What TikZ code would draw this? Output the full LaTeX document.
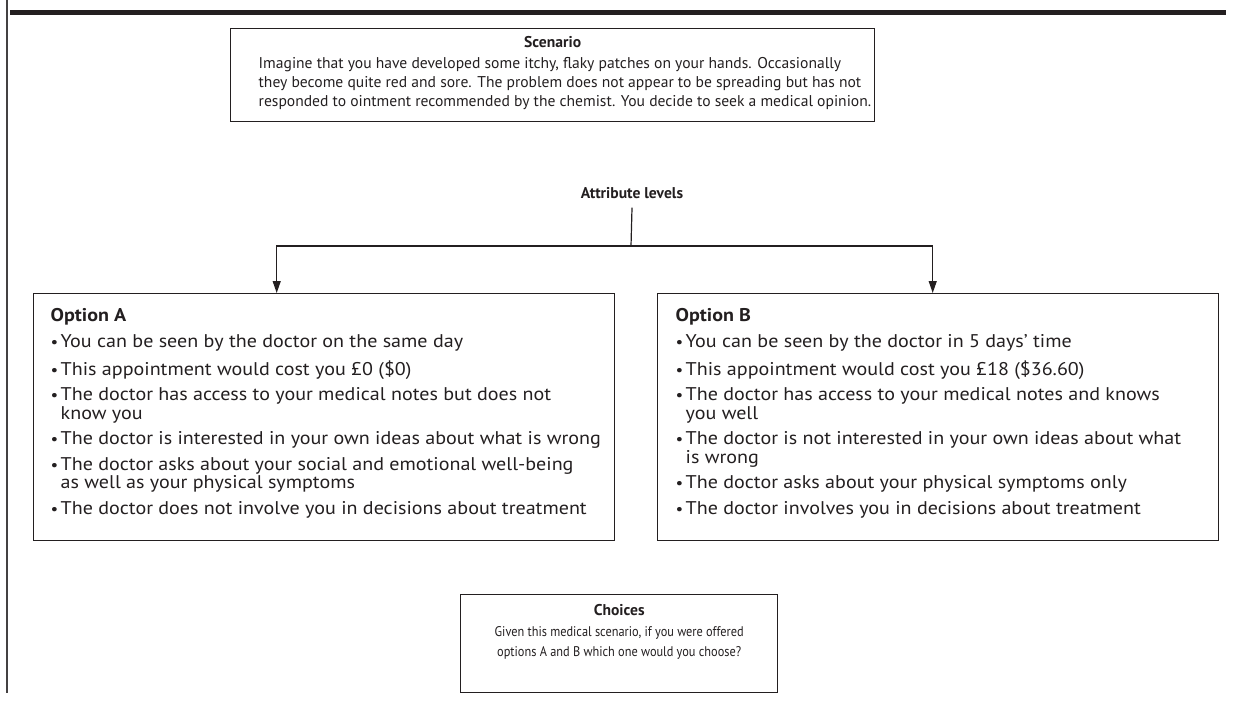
\documentclass[tikz,border=0pt]{standalone}
\usepackage{fontspec}
\setmainfont{PT Sans}
\newfontfamily\optfont[FakeStretch=1.09]{PT Sans}
\newfontfamily\choicefont[FakeStretch=0.88]{PT Sans}
\usetikzlibrary{positioning, arrows.meta}
\definecolor{ink}{HTML}{231F20}

\newcommand{\optitem}[1]{\par\vspace{3.6pt}\hangindent=5pt\hangafter=1\noindent\makebox[5pt][l]{\scalebox{0.85}{\textbullet}}#1}

\begin{document}
\begin{tikzpicture}[x=0.5pt, y=-0.5pt, >={Triangle[length=6pt,width=4pt]},
  font=\fontsize{7.8}{9.5}\selectfont,
  panel/.style={draw=ink, line width=0.7pt, inner sep=0pt, anchor=north west, text=ink},
  flow/.style={draw=ink, line width=0.6pt}]
  \useasboundingbox (0,0) rectangle (1234,700);

  % Frame
  \draw[ink!85, line width=0.8pt] (7,0) -- (7,693);
  \draw[ink, line width=2.5pt] (10,12.5) -- (1226,12.5);

  % Scenario
  \node[panel] (scen) at (230,28) {\parbox[c][46.5pt][t]{322pt}{\vspace*{4pt}%
    {\centering\textbf{Scenario}\par}\vspace{1pt}
    \raggedright\leftskip=14pt
    Imagine that you have developed some itchy, flaky patches on your hands. Occasionally\\
    they become quite red and sore. The problem does not appear to be spreading but has not\\
    responded to ointment recommended by the chemist. You decide to seek a medical opinion.}};

  \node[text=ink, font=\fontsize{7.8}{9.5}\selectfont\bfseries] (attr) at (632,193) {Attribute levels};

  % Options
  \node[panel] (optA) at (33,293) {\parbox[c][123.5pt][t]{290.5pt}{\vspace*{7.5pt}%
    \optfont\fontsize{9.2}{9.2}\selectfont\raggedright\leftskip=8.5pt
    \textbf{Option A}
    \optitem{You can be seen by the doctor on the same day}
    \optitem{This appointment would cost you £0 (\$0)}
    \optitem{The doctor has access to your medical notes but does not\newline know you}
    \optitem{The doctor is interested in your own ideas about what is wrong}
    \optitem{The doctor asks about your social and emotional well-being\newline as well as your physical symptoms}
    \optitem{The doctor does not involve you in decisions about treatment}}};

  \node[panel] (optB) at (657,293) {\parbox[c][123.5pt][t]{280.5pt}{\vspace*{7.5pt}%
    \optfont\fontsize{9.2}{9.2}\selectfont\raggedright\leftskip=9pt
    \textbf{Option B}
    \optitem{You can be seen by the doctor in 5 days’ time}
    \optitem{This appointment would cost you £18 (\$36.60)}
    \optitem{The doctor has access to your medical notes and knows\newline you well}
    \optitem{The doctor is not interested in your own ideas about what\newline is wrong}
    \optitem{The doctor asks about your physical symptoms only}
    \optitem{The doctor involves you in decisions about treatment}}};

  % Choices
  \node[panel] (choice) at (460,594) {\parbox[c][49pt][t]{158.5pt}{\vspace*{5pt}%
    \centering{\fontsize{7.8}{10}\selectfont\textbf{Choices}}\par\vspace{0.5pt}
    \choicefont\fontsize{7}{9.8}\selectfont
    Given this medical scenario, if you were offered\\
    options A and B which one would you choose?}};

  % Connectors
  \coordinate (fork) at (631,246);
  \draw[flow] ([yshift=-1pt]attr.south) -- (fork);
  \draw[flow, ->] (fork) -| ([xshift=-23.75pt]optA.north);
  \draw[flow, ->] (fork) -| ([xshift=-2.75pt]optB.north);
\end{tikzpicture}
\end{document}
